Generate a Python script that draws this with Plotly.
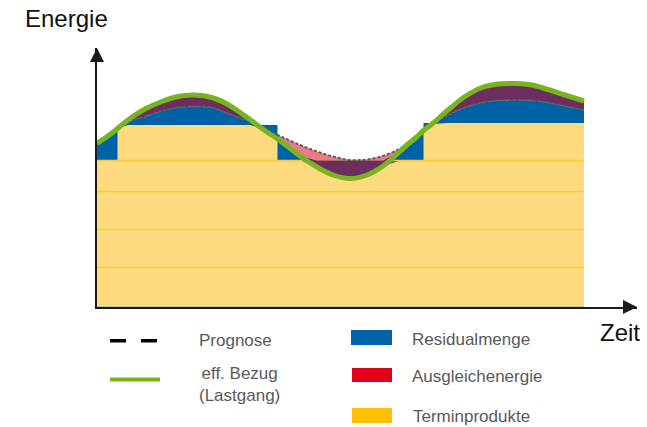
import numpy as np
import plotly.graph_objects as go

# ---------------- data (x = time, y = energy, arbitrary units) ----------------
time_x = [0, 15, 20.5, 31, 48, 65, 81, 98, 115, 131, 148, 153, 165, 173, 180.5,
          186, 203, 220, 236, 253, 270, 286, 303, 311, 319, 326.5, 335, 351,
          368, 385, 401, 418, 435, 451, 468, 487]
lastgang = [163, 173.5, 178, 186.5, 197.5, 205, 210, 211.5, 209, 202, 190.5, 187,
            178, 172.5, 167.5, 163.5, 150.5, 139.5, 131.5, 128, 131.5, 140.5, 155,
            162.5, 169, 176, 182.5, 196.5, 210, 219, 222.5, 223, 221.5, 217,
            211.5, 205.5]
prognose = [162.5, 172.5, 177, 184.5, 190, 195.5, 199, 200, 199, 193, 186.5, 185,
            179, 175, 171.5, 169, 161.5, 155, 150, 146.5, 147, 150.5, 158, 163,
            168.5, 174.5, 181.5, 191.5, 199, 204, 206, 206.5, 206, 204, 200.5,
            196.5]
termin_edges = [0, 20.5, 180.5, 326.5, 487]
termin_levels = [146, 181.5, 146, 183.5]
grid_levels = [146, 115, 77, 39]

legend_lines = ["Prognose", "eff. Bezug<br>(Lastgang)"]
legend_boxes = ["Residualmenge", "Ausgleichenergie", "Terminprodukte"]

# ---------------- colours ----------------
C_YELLOW = "#FDDA7E"
C_STRIPE = "#FFC93E"
C_BLUE = "#0062A6"
C_PURPLE = "#6D2E5F"
C_PINK = "#EC7A85"
C_GREEN = "#78B41E"
C_DASH = "#5E5E5E"
C_TEXT = "#595959"
FONT = "Liberation Sans, Arial, sans-serif"

# ---------------- build layer boundaries on a common grid ----------------
inner = termin_edges[1:-1]
xs, A, F, S = [], [], [], []
for x, a, f in zip(time_x, lastgang, prognose):
    if x in inner:
        k = inner.index(x)
        for lvl in (termin_levels[k], termin_levels[k + 1]):
            xs.append(x); A.append(a); F.append(f); S.append(lvl)
    else:
        k = int(np.searchsorted(termin_edges, x, side="right")) - 1
        k = min(max(k, 0), len(termin_levels) - 1)
        xs.append(x); A.append(a); F.append(f); S.append(termin_levels[k])
xs = np.array(xs); A = np.array(A); F = np.array(F); S = np.array(S)
low = min(termin_levels)

blue_top = np.maximum(S, np.minimum(A, F))
yellow_top = np.minimum(S, A)
pink_lo = np.maximum(A, S)
pink_hi = np.maximum(F, pink_lo)
purple_lo = np.maximum(F, np.minimum(A, S))
purple_hi = np.maximum(A, purple_lo)
trough_lo = A
trough_hi = np.where(S == low, np.maximum(A, np.minimum(S, F)), A)

fig = go.Figure()


def area(y, color):
    fig.add_trace(go.Scatter(x=xs, y=y, mode="lines", line=dict(width=0),
                             fill="tozeroy", fillcolor=color, hoverinfo="skip"))


def band(lo, hi, color):
    fig.add_trace(go.Scatter(x=xs, y=lo, mode="lines", line=dict(width=0),
                             hoverinfo="skip"))
    fig.add_trace(go.Scatter(x=xs, y=hi, mode="lines", line=dict(width=0),
                             fill="tonexty", fillcolor=color, hoverinfo="skip"))


area(blue_top, C_BLUE)
area(yellow_top, C_YELLOW)
for lvl in grid_levels:
    fig.add_trace(go.Scatter(x=[termin_edges[0], termin_edges[-1]], y=[lvl, lvl],
                             mode="lines", line=dict(color=C_STRIPE, width=1.5),
                             hoverinfo="skip"))
band(pink_lo, pink_hi, C_PINK)
band(purple_lo, purple_hi, C_PURPLE)
band(trough_lo, trough_hi, C_PURPLE)

fig.add_trace(go.Scatter(x=time_x, y=prognose, mode="lines", line_shape="spline",
                         line=dict(color=C_DASH, width=2, dash="3px,2px"),
                         hoverinfo="skip"))
fig.add_trace(go.Scatter(x=time_x, y=lastgang, mode="lines", line_shape="spline",
                         line=dict(color=C_GREEN, width=5), hoverinfo="skip"))

# ---------------- layout helpers (canvas pixels -> paper) ----------------
L, T, W, H = 97, 48, 540, 259


def px(x):
    return (x - L) / W


def py(y):
    return (T + H - y) / H


shapes = [
    dict(type="line", xref="paper", yref="paper", x0=px(110), x1=px(157),
         y0=py(340.7), y1=py(340.7), line=dict(color="black", width=3.5, dash="16px,15px")),
    dict(type="line", xref="paper", yref="paper", x0=px(110), x1=px(160),
         y0=py(379.5), y1=py(379.5), line=dict(color=C_GREEN, width=4)),
    dict(type="rect", xref="paper", yref="paper", x0=px(351), x1=px(392),
         y0=py(345), y1=py(330), fillcolor="#0062A8", line=dict(width=0)),
    dict(type="rect", xref="paper", yref="paper", x0=px(352), x1=px(392),
         y0=py(382), y1=py(368), fillcolor="#E2001A", line=dict(width=0)),
    dict(type="rect", xref="paper", yref="paper", x0=px(352), x1=px(392),
         y0=py(423), y1=py(408), fillcolor="#FFC000", line=dict(width=0)),
]

ann = [
    dict(text="Energie", x=px(23), y=py(18), xanchor="left", yanchor="middle",
         font=dict(size=24, color="#111111")),
    dict(text="Zeit", x=px(598), y=py(332), xanchor="left", yanchor="middle",
         font=dict(size=24, color="#111111")),
    dict(text=legend_lines[0], x=px(235.5), y=py(340.5), xanchor="center", yanchor="middle",
         font=dict(size=17, color=C_TEXT)),
    dict(text=legend_lines[1], x=px(239), y=py(384.5), xanchor="center", yanchor="middle",
         align="center", font=dict(size=17, color=C_TEXT)),
    dict(text=legend_boxes[0], x=px(410), y=py(339), xanchor="left", yanchor="middle",
         font=dict(size=17, color=C_TEXT)),
    dict(text=legend_boxes[1], x=px(410), y=py(376.7), xanchor="left", yanchor="middle",
         font=dict(size=17, color=C_TEXT)),
    dict(text=legend_boxes[2], x=px(411), y=py(416.7), xanchor="left", yanchor="middle",
         font=dict(size=17, color=C_TEXT)),
]
for a in ann:
    a.update(xref="paper", yref="paper", showarrow=False)

# axis arrow heads
ann.append(dict(x=1, y=0, xref="paper", yref="paper", ax=-14, ay=0, text="",
                showarrow=True, arrowhead=2, arrowsize=1.4, arrowwidth=2,
                arrowcolor="#1a1a1a"))
ann.append(dict(x=0, y=1, xref="paper", yref="paper", ax=0, ay=14, text="",
                showarrow=True, arrowhead=2, arrowsize=1.4, arrowwidth=2,
                arrowcolor="#1a1a1a"))

fig.update_layout(
    width=647, height=427,
    margin=dict(l=L, r=647 - L - W, t=T, b=427 - T - H),
    paper_bgcolor="white", plot_bgcolor="white",
    showlegend=False,
    font=dict(family=FONT),
    shapes=shapes,
    annotations=ann,
    xaxis=dict(range=[0, 540], showgrid=False, zeroline=False, showticklabels=False,
               ticks="", showline=True, linecolor="#1a1a1a", linewidth=2, fixedrange=True),
    yaxis=dict(range=[-0.5, 258.5], showgrid=False, zeroline=False, showticklabels=False,
               ticks="", showline=True, linecolor="#1a1a1a", linewidth=2, fixedrange=True),
)

fig.write_html("out.html", config={"displayModeBar": False},
               post_script="document.body.style.margin='0px';document.body.style.overflow='hidden';")
